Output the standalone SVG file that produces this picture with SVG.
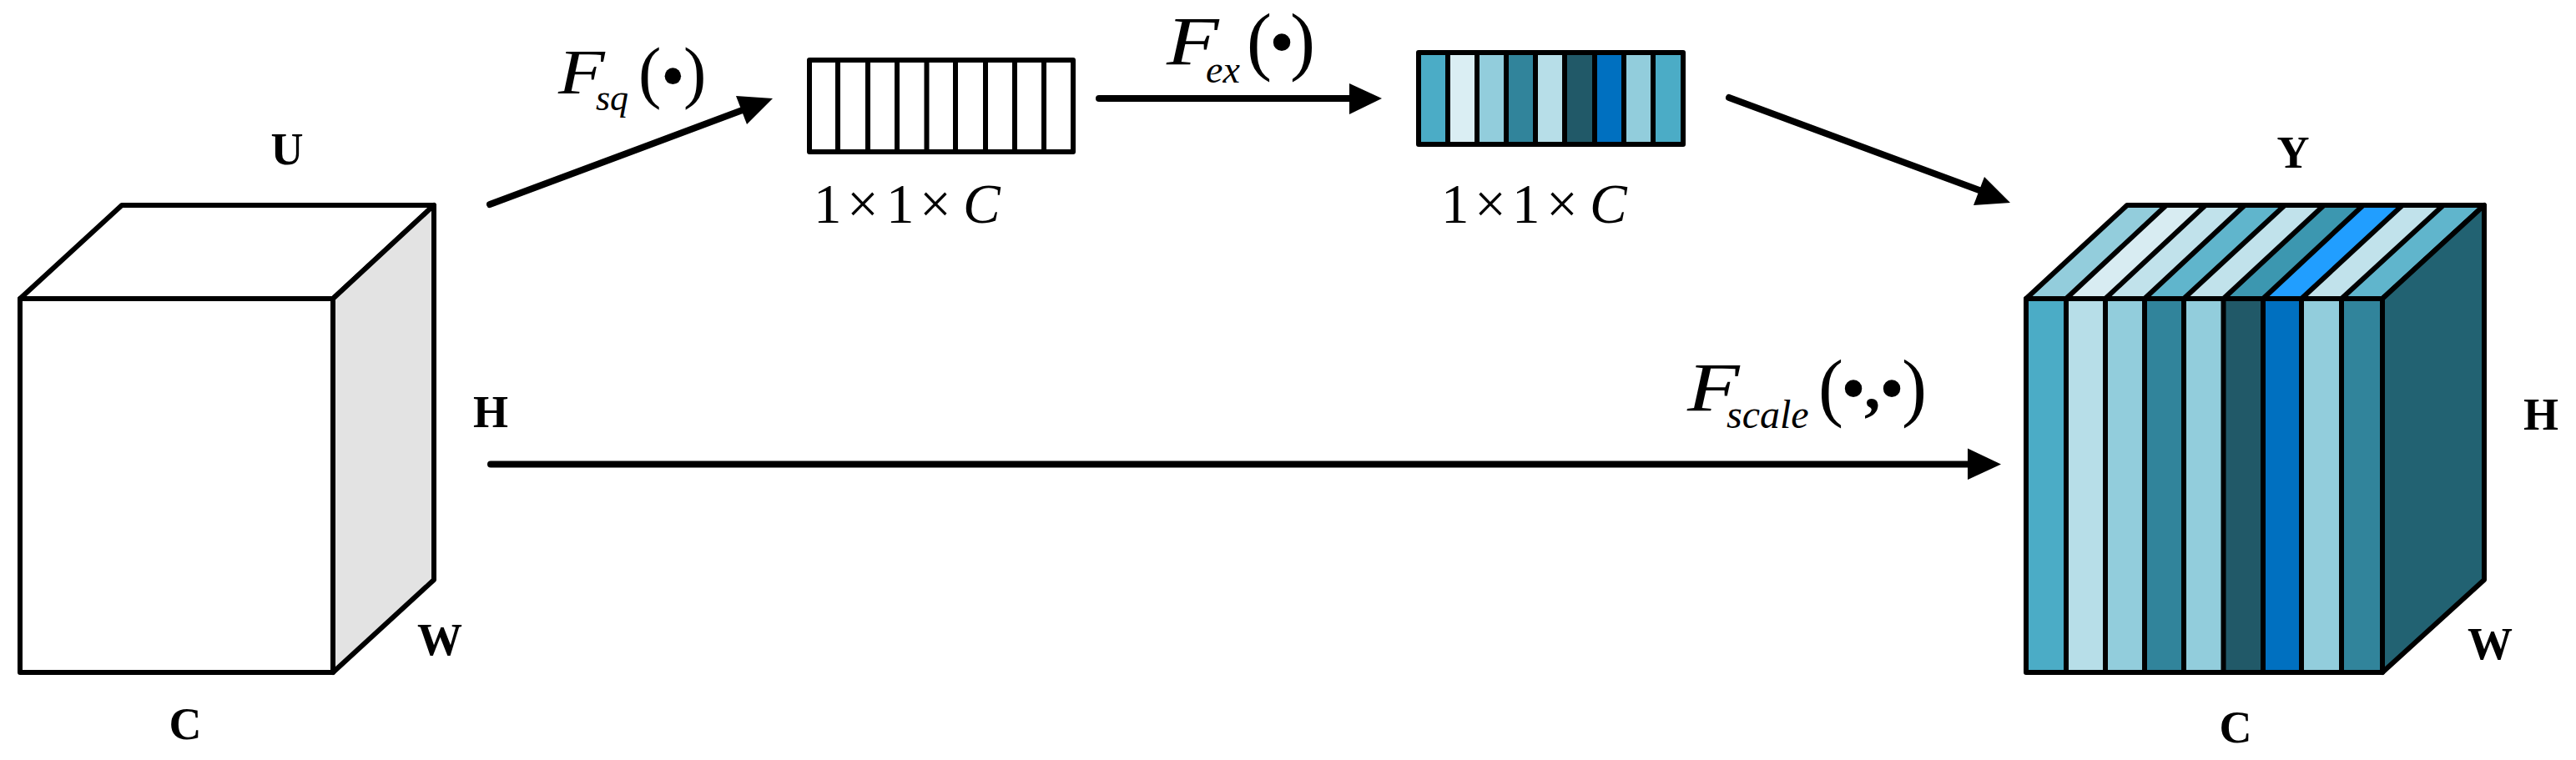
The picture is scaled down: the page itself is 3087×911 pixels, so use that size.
<svg xmlns="http://www.w3.org/2000/svg" width="3087" height="911" viewBox="0 0 3087 911">
<style>
.e{stroke:#000;stroke-width:6;stroke-linejoin:round}
.l{stroke:#000;stroke-width:6;fill:none}
.c{stroke:#000;stroke-width:8;stroke-linecap:round;fill:none}
.h{fill:#000}
text{font-family:"Liberation Serif","Times New Roman",serif;fill:#000}
.b{font-weight:bold;font-size:54px;text-anchor:middle}
.m{font-size:67px}
.i{font-style:italic}
</style>
<rect width="3087" height="911" fill="#fff"/>
<g id="connectors">
<path class="c" d="M587 245L895 130"/><path class="h" d="M926 118L882 115L895 149Z"/>
<path class="c" d="M1317 118H1625"/><path class="h" d="M1656 118L1617 100V137Z"/>
<path class="c" d="M2072 117L2380 231"/><path class="h" d="M2409 243L2378 212L2365 246Z"/>
<path class="c" d="M588 556.500H2365"/><path class="h" d="M2398 556.500L2358 537.500V575Z"/>
</g>
<g id="cube-input">
<path class="e" fill="#fff" d="M24 358L146 246H520L399 358Z"/>
<path class="e" fill="#e3e3e3" d="M399 358L520 246V695L399 806Z"/>
<rect class="e" fill="#fff" x="24" y="358" width="375" height="448"/>
<text class="b" x="344" y="197">U</text>
<text class="b" x="588" y="512">H</text>
<text class="b" x="527" y="785">W</text>
<text class="b" x="222" y="886">C</text>
</g>
<g id="vector-squeezed">
<rect x="970" y="72" width="316" height="110" fill="#fff" class="e"/>
<path class="l" d="M1004 72V182M1040 72V182M1075 72V182M1110.500 72V182M1145 72V182M1181 72V182M1216 72V182M1251 72V182"/>
<text class="m" x="975 1015 1062 1102" y="267">1×1×<tspan class="i" x="1154">C</tspan></text>
</g>
<g id="vector-excited">
<rect x="1700" y="63" width="35" height="110" fill="#4bacc6"/>
<rect x="1735" y="63" width="35" height="110" fill="#daeef3"/>
<rect x="1770" y="63" width="35" height="110" fill="#92cddc"/>
<rect x="1805" y="63" width="35" height="110" fill="#31849b"/>
<rect x="1840" y="63" width="35" height="110" fill="#b7dee8"/>
<rect x="1875" y="63" width="36" height="110" fill="#215968"/>
<rect x="1911" y="63" width="35" height="110" fill="#0070c0"/>
<rect x="1946" y="63" width="35" height="110" fill="#92cddc"/>
<rect x="1981" y="63" width="36" height="110" fill="#4bacc6"/>
<rect x="1700" y="63" width="317" height="110" fill="none" class="e"/>
<path class="l" d="M1735 63V173M1770 63V173M1805 63V173M1840 63V173M1875 63V173M1911 63V173M1946 63V173M1981 63V173"/>
<text class="m" x="1727 1767 1812 1853" y="267">1×1×<tspan class="i" x="1905">C</tspan></text>
</g>
<g id="cube-output">
<path d="M2428 358L2549 246H2596L2476 358Z" fill="#93cddc"/>
<path d="M2476 358L2596 246H2643L2523 358Z" fill="#d8ecf2"/>
<path d="M2523 358L2643 246H2690L2570 358Z" fill="#c1e2eb"/>
<path d="M2570 358L2690 246H2738L2617 358Z" fill="#60b5cc"/>
<path d="M2617 358L2738 246H2785L2664.500 358Z" fill="#c1e2eb"/>
<path d="M2664.500 358L2785 246H2832L2712 358Z" fill="#3c97b0"/>
<path d="M2712 358L2832 246H2879L2758 358Z" fill="#219eff"/>
<path d="M2758 358L2879 246H2928L2806 358Z" fill="#c1e2eb"/>
<path d="M2806 358L2928 246H2977L2855 358Z" fill="#60b5cc"/>
<path class="l" d="M2476 358L2596 246M2523 358L2643 246M2570 358L2690 246M2617 358L2738 246M2664.500 358L2785 246M2712 358L2832 246M2758 358L2879 246M2806 358L2928 246"/>
<path class="e" fill="none" d="M2428 358L2549 246H2977L2855 358Z"/>
<path class="e" fill="#226272" d="M2855 358L2977 246V695L2855 806Z"/>
<rect x="2428" y="358" width="48" height="448" fill="#4bacc6"/>
<rect x="2476" y="358" width="47" height="448" fill="#b7dee8"/>
<rect x="2523" y="358" width="47" height="448" fill="#92cddc"/>
<rect x="2570" y="358" width="47" height="448" fill="#31849b"/>
<rect x="2617" y="358" width="47.500" height="448" fill="#92cddc"/>
<rect x="2664.500" y="358" width="47.500" height="448" fill="#215968"/>
<rect x="2712" y="358" width="46" height="448" fill="#0070c0"/>
<rect x="2758" y="358" width="48" height="448" fill="#92cddc"/>
<rect x="2806" y="358" width="49" height="448" fill="#31849b"/>
<rect x="2428" y="358" width="427" height="448" fill="none" class="e"/>
<path class="l" d="M2476 358V806M2523 358V806M2570 358V806M2617 358V806M2664.500 358V806M2712 358V806M2758 358V806M2806 358V806"/>
<text class="b" x="2748" y="201">Y</text>
<text class="b" x="3045" y="515">H</text>
<text class="b" x="2984" y="790">W</text>
<text class="b" x="2679" y="890">C</text>
</g>
<g id="label-fsq">
<text class="i" transform="translate(669 112) scale(1.2 1)" font-size="76">F</text>
<text><tspan class="i" x="714" y="132" font-size="44">sq</tspan><tspan x="765" y="114" font-size="82">(</tspan><tspan x="792" y="119" font-size="82">•</tspan><tspan x="819" y="114" font-size="82">)</tspan></text>
</g>
<g id="label-fex">
<text class="i" transform="translate(1398 77) scale(1.25 1)" font-size="82">F</text>
<text><tspan class="i" x="1445" y="99" font-size="46">ex</tspan><tspan x="1494" y="79" font-size="90">(</tspan><tspan x="1521" y="79" font-size="86">•</tspan><tspan x="1546" y="79" font-size="90">)</tspan></text>
</g>
<g id="label-fscale">
<text class="i" transform="translate(2022 492) scale(1.25 1)" font-size="82">F</text>
<text><tspan class="i" x="2069" y="513" font-size="48">scale</tspan><tspan x="2179" y="494" font-size="90">(</tspan><tspan x="2206" y="494" font-size="86">•</tspan><tspan x="2234" y="490" font-size="78" font-weight="bold">,</tspan><tspan x="2252" y="494" font-size="86">•</tspan><tspan x="2279" y="494" font-size="90">)</tspan></text>
</g>
</svg>
